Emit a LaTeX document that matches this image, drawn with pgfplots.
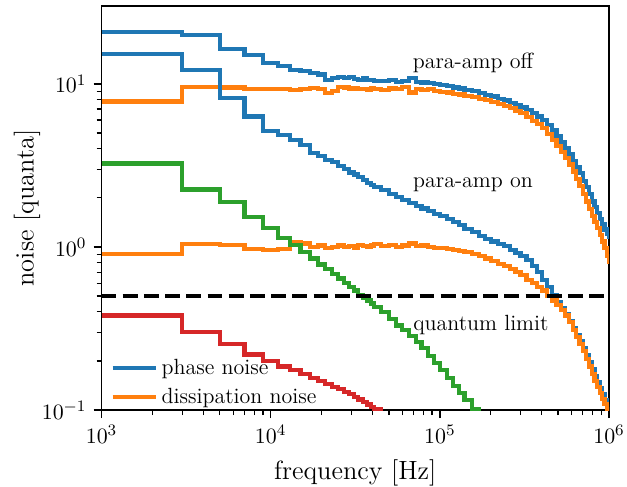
\documentclass[border=0pt]{standalone}
\usepackage{pgfplots}
\pgfplotsset{compat=1.18}
\definecolor{tabblue}{HTML}{1F77B4}
\definecolor{taborange}{HTML}{FF7F0E}
\definecolor{tabgreen}{HTML}{2CA02C}
\definecolor{tabred}{HTML}{D62728}
\begin{document}
\begin{tikzpicture}
\begin{axis}[
  scale only axis, width=253.75pt, height=202pt,
  xmode=log, ymode=log,
  xmin=1000, xmax=1000000, ymin=0.1, ymax=30,
  axis line style={line width=0.8pt},
  tick align=outside, tick pos=left,
  major tick length=4pt, minor tick length=2.5pt,
  every major tick/.style={line width=0.8pt, black},
  every minor tick/.style={line width=0.6pt, black},
  tick label style={font=\fontsize{11}{13}\selectfont},
  xlabel={frequency [Hz]}, ylabel={noise [quanta]},
  label style={font=\fontsize{13.2}{15}\selectfont},
  xlabel style={at={(axis description cs:0.5,-0.156)}, anchor=center},
  ylabel style={at={(axis description cs:-0.147,0.5)}, anchor=center},
  legend style={at={(rel axis cs:0.005,-0.012)}, anchor=south west, draw=none, fill=none,
    font=\fontsize{11}{13}\selectfont, row sep=1.5pt},
  legend cell align=left,
  legend image code/.code={\draw[#1] (0pt,0pt) -- (21.5pt,0pt);},
  every axis plot/.append style={line width=2.1pt, const plot},
]
% para-amp off, phase noise
\addplot[tabblue] coordinates {
(1000,20.9) (3000,20.0) (5000,16.3) (7000,15.1) (9000,13.4) (11000,12.8) (13000,12.2) (15000,12.0)
(17000,11.6) (19000,11.4) (21000,10.6) (23000,10.9) (25000,11.0) (27000,10.8) (29000,11.0) (31000,10.7)
(33000,10.6) (35000,10.8) (37000,10.5) (39000,10.6) (41000,10.45) (45000,10.4) (50000,10.5) (55000,10.3)
(60000,10.35) (66000,10.9) (72000,10.3) (78000,10.2) (85000,10.1) (92000,10.0) (100000,9.85) (110000,9.65)
(120000,9.5) (130000,9.35) (140000,9.2) (155000,9.0) (170000,8.75) (185000,8.55) (200000,8.35) (220000,8.1)
(240000,7.9) (260000,7.65) (280000,7.4) (300000,7.15) (325000,6.9) (350000,6.6) (375000,6.3) (400000,6.0)
(430000,5.6) (460000,5.2) (490000,4.8) (520000,4.4) (550000,4.05) (580000,3.7) (610000,3.35) (640000,3.1)
(670000,2.83) (700000,2.55) (730000,2.32) (760000,2.1) (790000,1.9) (820000,1.75) (850000,1.62) (880000,1.48)
(910000,1.38) (940000,1.28) (970000,1.2) (1000000,1.12)
};
\addlegendentry{phase noise}
% para-amp off, dissipation noise
\addplot[taborange] coordinates {
(1000,7.8) (3000,9.6) (5000,9.5) (7000,9.3) (9000,9.25) (11000,9.3) (13000,9.2) (15000,9.25)
(17000,9.4) (19000,9.3) (21000,8.8) (23000,9.0) (25000,9.55) (27000,9.5) (29000,9.35) (31000,9.4)
(33000,9.25) (35000,9.3) (37000,9.2) (39000,9.35) (41000,9.3) (45000,9.2) (50000,9.35) (55000,9.25)
(60000,9.6) (66000,8.85) (72000,9.3) (78000,9.2) (85000,9.25) (92000,9.05) (100000,8.95) (110000,8.85)
(120000,8.7) (130000,8.6) (140000,8.45) (155000,8.3) (170000,8.1) (185000,7.95) (200000,7.75) (220000,7.55)
(240000,7.35) (260000,7.1) (280000,6.85) (300000,6.6) (325000,6.25) (350000,5.95) (375000,5.65) (400000,5.35)
(430000,4.95) (460000,4.55) (490000,4.15) (520000,3.8) (550000,3.5) (580000,3.2) (610000,2.9) (640000,2.6)
(670000,2.35) (700000,2.12) (730000,1.9) (760000,1.7) (790000,1.55) (820000,1.42) (850000,1.3) (880000,1.18)
(910000,1.08) (940000,0.98) (970000,0.88) (1000000,0.79)
};
\addlegendentry{dissipation noise}
% para-amp on, phase noise
\addplot[tabblue, forget plot] coordinates {
(1000,15.3) (3000,12.1) (5000,8.17) (7000,6.3) (9000,5.15) (11000,4.85) (13000,4.5) (15000,4.2)
(17000,3.75) (19000,3.6) (21000,3.42) (23000,3.3) (25000,3.12) (27000,3.0) (29000,2.86) (31000,2.78)
(33000,2.68) (35000,2.56) (37000,2.47) (39000,2.4) (41000,2.34) (45000,2.24) (50000,2.1) (55000,2.02)
(60000,1.94) (66000,1.86) (72000,1.78) (78000,1.72) (85000,1.66) (92000,1.6) (100000,1.55) (110000,1.49)
(120000,1.42) (130000,1.36) (140000,1.29) (155000,1.23) (170000,1.17) (185000,1.12) (200000,1.08) (220000,1.04)
(240000,1.01) (260000,0.96) (280000,0.92) (300000,0.88) (325000,0.83) (350000,0.76) (375000,0.70) (400000,0.63)
(430000,0.57) (460000,0.51) (490000,0.46) (520000,0.42) (550000,0.385) (580000,0.35) (610000,0.32) (640000,0.29)
(670000,0.265) (700000,0.24) (730000,0.218) (760000,0.197) (790000,0.178) (820000,0.162) (850000,0.148) (880000,0.137)
(910000,0.125) (940000,0.115) (970000,0.106) (1000000,0.098)
};
% para-amp on, dissipation noise
\addplot[taborange, forget plot] coordinates {
(1000,0.90) (3000,1.04) (5000,1.03) (7000,0.975) (9000,0.96) (11000,0.97) (13000,1.07) (15000,1.05)
(17000,1.0) (19000,1.02) (21000,0.99) (23000,1.0) (25000,1.02) (27000,1.0) (29000,1.01) (31000,0.99)
(33000,1.03) (35000,1.01) (37000,1.0) (39000,1.02) (41000,1.04) (45000,1.01) (50000,1.03) (55000,1.0)
(60000,1.02) (66000,1.05) (72000,1.01) (78000,1.02) (85000,1.0) (92000,0.99) (100000,0.98) (110000,0.97)
(120000,0.96) (130000,0.94) (140000,0.93) (155000,0.91) (170000,0.88) (185000,0.85) (200000,0.82) (220000,0.79)
(240000,0.76) (260000,0.73) (280000,0.70) (300000,0.67) (325000,0.63) (350000,0.6) (375000,0.57) (400000,0.54)
(430000,0.5) (460000,0.47) (490000,0.44) (520000,0.41) (550000,0.38) (580000,0.345) (610000,0.31) (640000,0.28)
(670000,0.255) (700000,0.23) (730000,0.205) (760000,0.185) (790000,0.167) (820000,0.15) (850000,0.138) (880000,0.127)
(910000,0.117) (940000,0.109) (970000,0.102) (1000000,0.097)
};
% green
\addplot[tabgreen, forget plot] coordinates {
(1000,3.25) (3000,2.25) (5000,1.88) (7000,1.52) (9000,1.3) (11000,1.13) (13000,1.03) (15000,0.93)
(17000,0.85) (19000,0.78) (21000,0.73) (23000,0.68) (25000,0.64) (27000,0.60) (29000,0.57) (31000,0.54)
(33000,0.51) (35000,0.49) (37000,0.47) (39000,0.45) (41000,0.43) (45000,0.40) (50000,0.36) (55000,0.33)
(60000,0.31) (66000,0.285) (72000,0.26) (78000,0.24) (85000,0.215) (92000,0.195) (100000,0.175) (110000,0.157)
(120000,0.14) (130000,0.127) (140000,0.115) (155000,0.102) (170000,0.09)
};
% red
\addplot[tabred, forget plot] coordinates {
(1000,0.38) (3000,0.30) (5000,0.255) (7000,0.219) (9000,0.20) (11000,0.185) (13000,0.175) (15000,0.166)
(17000,0.158) (19000,0.151) (21000,0.145) (23000,0.139) (25000,0.134) (27000,0.129) (29000,0.125) (31000,0.12)
(33000,0.116) (35000,0.112) (37000,0.108) (39000,0.104) (41000,0.101) (45000,0.095) (50000,0.09)
};
% quantum limit
\addplot[black, line width=2pt, dash pattern=on 7.4pt off 3.2pt, sharp plot, forget plot] coordinates {(1000,0.5) (1000000,0.5)};
\node[font=\fontsize{11}{13}\selectfont] at (axis cs:157000,13.4) {para-amp off};
\node[font=\fontsize{11}{13}\selectfont] at (axis cs:157000,2.39) {para-amp on};
\node[font=\fontsize{11}{13}\selectfont] at (axis cs:175000,0.33) {quantum limit};
\coordinate (ll) at (rel axis cs:0,0);
\coordinate (ur) at (rel axis cs:1,1);
\end{axis}
\pgfresetboundingbox
\path[use as bounding box] ([shift={(-50.75pt,-38pt)}]ll) rectangle ([shift={(9pt,3pt)}]ur);
\end{tikzpicture}
\end{document}
